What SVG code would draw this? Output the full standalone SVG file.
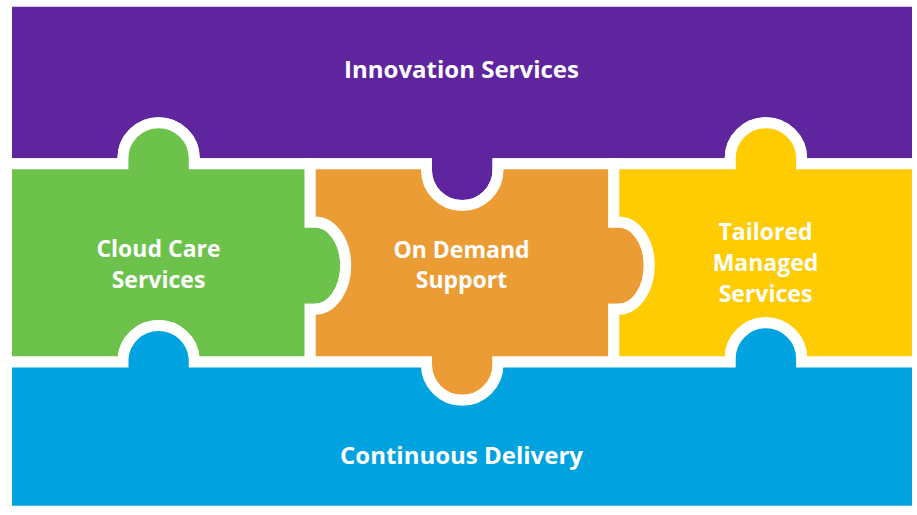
<svg xmlns="http://www.w3.org/2000/svg" width="917" height="515" viewBox="0 0 917 515">
<style>
.p{stroke:#fff;stroke-width:11;stroke-linejoin:miter}
.t{fill:#fff;font-family:"Open Sans","Noto Sans","Liberation Sans",sans-serif;font-weight:bold;text-anchor:middle}
.big{font-size:24px}
.mid{font-size:23px}
</style>
<rect x="0" y="0" width="917" height="515" fill="#fff"/>
<g id="innovation">
<path class="p" fill="#5E259E" d="M6.5,1.2 H917.5 V163.8 H801.6 V158.4 A35.7,35.7 0 0 0 730.2,158.4 V163.8 H498 V169.8 A35.8,35.8 0 0 1 426.4,169.8 V163.8 H194.3 V158.4 A35.7,35.7 0 0 0 122.9,158.4 V163.8 H6.5 Z"/>
<text class="t big" x="461.5" y="78.3">Innovation Services</text>
</g>
<g id="cloudcare">
<path class="p" fill="#6DC24C" d="M6.5,163.8 H122.9 V158.4 A35.7,35.7 0 0 1 194.3,158.4 V163.8 H310.2 V222 H315.2 A30.5,43.6 0 0 1 315.2,309.2 H310.2 V362 H194.2 V358.5 A35.7,35.7 0 0 0 123,358.5 V362 H6.5 Z"/>
<text class="t mid" x="158.5" y="257.3">Cloud Care</text>
<text class="t mid" x="158.5" y="287.6">Services</text>
</g>
<g id="ondemand">
<path class="p" fill="#EC9C34" d="M310.2,163.8 H426.4 V169.8 A35.8,35.8 0 0 0 498,169.8 V163.8 H613.8 V222 H618.8 A30.5,43.6 0 0 1 618.8,309.2 H613.8 V362 H498 V364.5 A35.8,35.8 0 0 1 426.4,364.5 V362 H310.2 V309.2 H315.2 A30.5,43.6 0 0 0 315.2,222 H310.2 Z"/>
<text class="t mid" x="461.5" y="257.6">On Demand</text>
<text class="t mid" x="461.5" y="287.5">Support</text>
</g>
<g id="tailored">
<path class="p" fill="#FECC00" d="M613.8,163.8 H730.2 V158.4 A35.7,35.7 0 0 1 801.6,158.4 V163.8 H917.5 V362 H801.6 V358.5 A35.7,35.7 0 0 0 730.2,358.5 V362 H613.8 V309.2 H618.8 A30.5,43.6 0 0 0 618.8,222 H613.8 Z"/>
<text class="t mid" x="765.5" y="240.3">Tailored</text>
<text class="t mid" x="765.5" y="271">Managed</text>
<text class="t mid" x="765.5" y="301.6">Services</text>
</g>
<g id="continuous">
<path class="p" fill="#00A3E0" d="M6.5,362 H123 V358.5 A35.7,35.7 0 0 1 194.2,358.5 V362 H426.4 V364.5 A35.8,35.8 0 0 0 498,364.5 V362 H730.2 V358.5 A35.7,35.7 0 0 1 801.6,358.5 V362 H917.5 V511.2 H6.5 Z"/>
<text class="t big" x="461.5" y="464.3">Continuous Delivery</text>
</g>
<g id="connectors"></g>
</svg>
